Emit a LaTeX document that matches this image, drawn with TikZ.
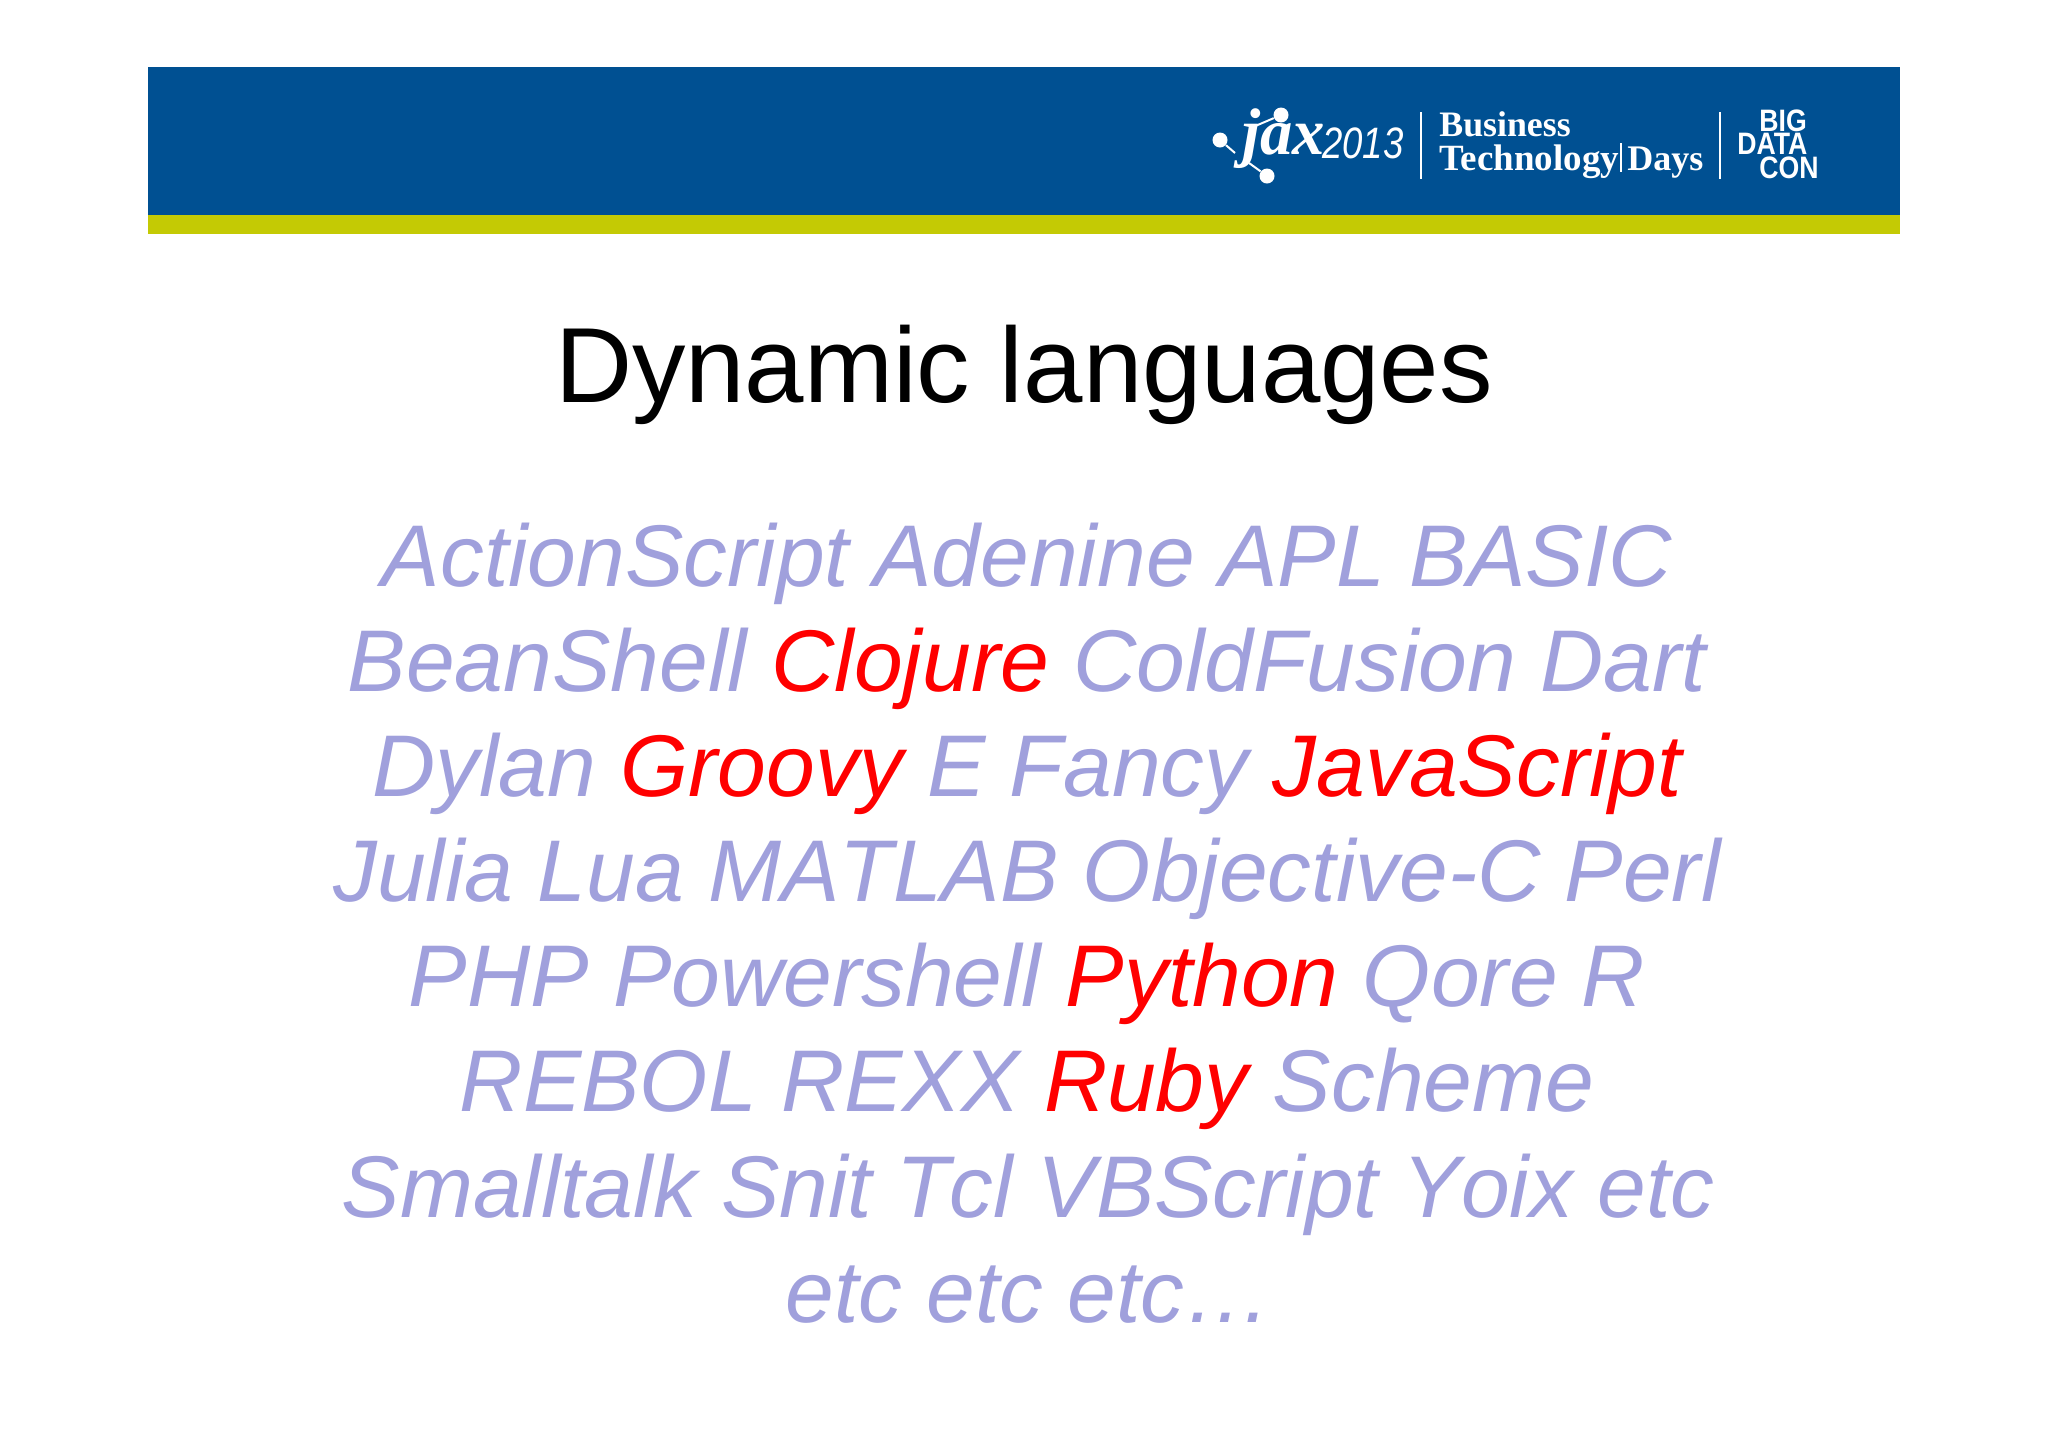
\documentclass[tikz,border=0pt]{standalone}
\usepackage{fontspec}
\setmainfont[Kerning=Off]{Liberation Sans}
\newfontfamily\serifface{Liberation Serif}
\newfontfamily\logosans{Liberation Sans}
\definecolor{bannerblue}{HTML}{005092}
\definecolor{bannergreen}{HTML}{C4CA04}
\definecolor{langlilac}{HTML}{A0A0DC}
\definecolor{langred}{HTML}{FF0000}
\newcommand{\hot}[1]{\textcolor{langred}{#1}}
\tikzset{
  px/.style={x=0.5pt,y=-0.5pt},
  title/.style={anchor=base,inner sep=0pt,font=\fontsize{53.4}{60}\selectfont,text=black},
  lang/.style={anchor=base,inner sep=0pt,text=langlilac,font=\fontsize{43.8}{50}\selectfont\itshape},
  logotext/.style={anchor=base west,inner sep=0pt,text=white},
  logodot/.style={circle,fill=white,inner sep=0pt,minimum size=7.5pt},
  logoline/.style={draw=white,line width=1pt},
  logorule/.style={draw=white,line width=0.7pt},
  bigdata/.style={logotext,xscale=0.86,font=\logosans\fontsize{15.5}{15}\selectfont\bfseries},
}
\begin{document}
\begin{tikzpicture}[px]
\useasboundingbox (0,0) rectangle (2048,1447);
\fill[white] (0,0) rectangle (2048,1447);
\fill[bannerblue] (148,67) rectangle (1900,215);
\fill[bannergreen] (148,215) rectangle (1900,234);
% logo
\node[logotext,xscale=0.98,font=\serifface\fontsize{33}{33}\selectfont\bfseries\itshape] (jax) at (1242,154) {jax};
\node[logodot] (dotA) at (1281,115) {};
\node[logodot] (dotB) at (1220,140) {};
\node[logodot] (dotC) at (1267,176) {};
\coordinate (endA) at (1253,127);
\coordinate (endB) at (1235,153);
\coordinate (endC) at (1249,163);
\draw[logoline] (dotA) -- (endA);
\draw[logoline] (dotB) -- (endB);
\draw[logoline] (dotC) -- (endC);
\node[logotext,font=\logosans\fontsize{22}{20}\selectfont\itshape,xscale=0.83] (year) at (1322,158) {2013};
\coordinate (ruleAt) at (1421,112);
\coordinate (ruleAb) at (1421,179);
\draw[logorule] (ruleAt) -- (ruleAb);
\node[logotext,font=\serifface\fontsize{17.9}{18}\selectfont\bfseries] (biz) at (1439,136) {Business};
\node[logotext,font=\serifface\fontsize{18.5}{18}\selectfont\bfseries] (tech) at (1439,170) {Technology};
\coordinate (ruleBt) at (1621,143);
\coordinate (ruleBb) at (1621,172);
\draw[logorule] (ruleBt) -- (ruleBb);
\node[logotext,font=\serifface\fontsize{18}{18}\selectfont\bfseries] (days) at (1627,170) {Days};
\coordinate (ruleCt) at (1720,112);
\coordinate (ruleCb) at (1720,179);
\draw[logorule] (ruleCt) -- (ruleCb);
\node[bigdata] (big) at (1759,131) {BIG};
\node[bigdata] (data) at (1737,154) {DATA};
\node[bigdata] (con) at (1759,178) {CON};
% text
\node[title] (head) at (1024,402) {Dynamic languages};
\node[lang] (l1) at (1027,586) {ActionScript Adenine APL BASIC};
\node[lang] (l2) at (1027,691) {BeanShell \hot{Clojure} ColdFusion Dart};
\node[lang] (l3) at (1027,796) {Dylan \hot{Groovy} E Fancy \hot{JavaScript}};
\node[lang] (l4) at (1027,901) {Julia Lua MATLAB Objective-C Perl};
\node[lang] (l5) at (1027,1006) {PHP Powershell \hot{Python} Qore R};
\node[lang] (l6) at (1027,1111) {REBOL REXX \hot{Ruby} Scheme};
\node[lang] (l7) at (1028,1217) {Smalltalk Snit Tcl VBScript Yoix etc};
\node[lang] (l8) at (1029,1322) {etc etc etc…};
\end{tikzpicture}
\end{document}
